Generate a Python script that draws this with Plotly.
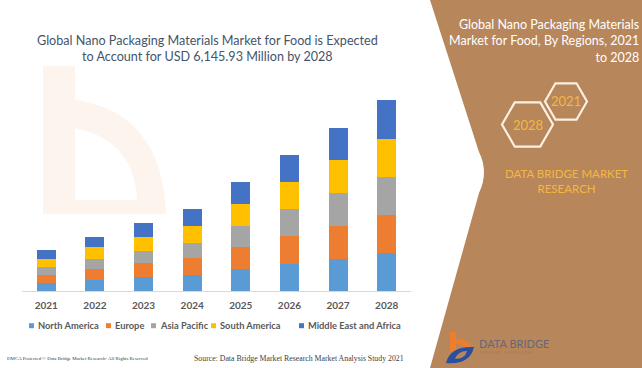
import math
import plotly.graph_objects as go

W, H = 642, 368

# Market size by region, USD Million
years = ["2021", "2022", "2023", "2024", "2025", "2026", "2027", "2028"]
north_america = [268, 345, 442, 516, 699, 880, 1041, 1225.0]
europe = [258, 364, 451, 538, 719, 893, 1064, 1234.4]
asia_pacific = [258, 322, 406, 503, 677, 870, 1044, 1215.1]
south_america = [258, 377, 451, 538, 709, 870, 1064, 1234.4]
middle_east_africa = [271, 342, 442, 548, 709, 870, 1051, 1237.03]

region_names = ["North America", "Europe", "Asia Pacific", "South America",
                "Middle East and Africa"]
region_values = [north_america, europe, asia_pacific, south_america,
                 middle_east_africa]
region_colors = ["#5B9BD5", "#ED7D31", "#A5A5A5", "#FFC000", "#4472C4"]

total_2028 = 6145.93

BROWN = "#B7865B"
GOLD = "#F4B743"


def fx(x):
    return x / W


def fy(y):
    return 1 - y / H


def path(cmds):
    """Build an SVG path in paper units from pixel-space commands."""
    out = []
    for c in cmds:
        op, nums = c[0], c[1:]
        pts = []
        for i in range(0, len(nums), 2):
            pts.append(f"{fx(nums[i]):.5f},{fy(nums[i + 1]):.5f}")
        out.append(op + " " + " ".join(pts))
    return " ".join(out)


fig = go.Figure()
for name, vals, col in zip(region_names, region_values, region_colors):
    fig.add_trace(go.Bar(
        x=years, y=vals, name=name,
        marker=dict(color=col, line=dict(width=0)),
        hoverinfo="skip", showlegend=False,
    ))

shapes = []

# faint brand mark behind the bars
shapes.append(dict(
    type="path", xref="paper", yref="paper", layer="below",
    path=path([("M", 43, 66), ("L", 75, 66), ("L", 75, 100),
               ("Q", 162, 112, 166, 214), ("L", 43, 214), ("Z",),
               ("M", 75, 128), ("Q", 134, 140, 137, 200),
               ("L", 75, 200), ("Z",)]),
    fillcolor="#FEF4EE", fillrule="evenodd", line=dict(width=0),
))

# brown side panel
shapes.append(dict(
    type="path", xref="paper", yref="paper", layer="above",
    path=path([("M", 430, 0), ("L", 479, 152), ("Q", 489, 172, 479, 193),
               ("L", 430, 368), ("L", 642, 368), ("L", 642, 0), ("Z",)]),
    fillcolor=BROWN, line=dict(width=0),
))


def hexagon(cx, cy, r):
    cmds = []
    for k in range(6):
        a = math.radians(60 * k)
        cmds.append(("M" if k == 0 else "L", cx + r * math.cos(a),
                     cy + r * math.sin(a)))
    cmds.append(("Z",))
    return path(cmds)


for cx, cy, r in [(566, 101.5, 21), (527.5, 124.5, 25.5)]:
    shapes.append(dict(
        type="path", xref="paper", yref="paper", layer="above",
        path=hexagon(cx, cy, r), fillcolor="rgba(0,0,0,0)",
        line=dict(color="#FBF1E2", width=2.2),
    ))

# logo icon, bottom right
shapes.append(dict(
    type="path", xref="paper", yref="paper", layer="above",
    path=path([("M", 450, 332), ("L", 456, 332), ("L", 456, 339),
               ("Q", 472, 339, 472, 352), ("L", 450, 352), ("Z",),
               ("M", 456, 344), ("Q", 466, 344, 466, 350),
               ("L", 456, 350), ("Z",)]),
    fillcolor="#EE7D2D", fillrule="evenodd", line=dict(width=0),
))
shapes.append(dict(
    type="path", xref="paper", yref="paper", layer="above",
    path=path([("M", 446, 363), ("Q", 450, 346, 474, 347),
               ("Q", 470, 365, 446, 363), ("Z",),
               ("M", 455, 359), ("Q", 458, 351, 467, 351),
               ("Q", 465, 359, 455, 359), ("Z",)]),
    fillcolor="#2A4F9E", fillrule="evenodd", line=dict(width=0),
))

annotations = []

# main title
annotations.append(dict(
    xref="paper", yref="paper", x=fx(207), y=fy(48.5),
    xanchor="center", yanchor="middle", showarrow=False,
    text="Global Nano Packaging Materials Market for Food is Expected<br>"
         f"to Account for USD {total_2028:,.2f} Million by 2028",
    font=dict(family="Lato", size=12.6, color="#44546A"),
))

# legend
legend_x = [29, 106, 151, 211, 299]
legend_y = 325.7
for lx, name, col in zip(legend_x, region_names, region_colors):
    shapes.append(dict(
        type="rect", xref="paper", yref="paper", layer="above",
        x0=fx(lx), x1=fx(lx + 5), y0=fy(legend_y + 2.5), y1=fy(legend_y - 2.5),
        fillcolor=col, line=dict(width=0),
    ))
    annotations.append(dict(
        xref="paper", yref="paper", x=fx(lx + 6.5), y=fy(legend_y),
        xanchor="left", yanchor="middle", showarrow=False, text=name,
        font=dict(family="Lato", size=9.3, color="#595959", weight="bold"),
    ))

# footer
annotations.append(dict(
    xref="paper", yref="paper", x=fx(5), y=fy(358),
    xanchor="left", yanchor="middle", showarrow=False,
    text="DMCA Protected © Data Bridge Market Research- All Rights Reserved",
    font=dict(family="Liberation Serif", size=4.9, color="#404040"),
))
annotations.append(dict(
    xref="paper", yref="paper", x=fx(192), y=fy(358),
    xanchor="left", yanchor="middle", showarrow=False,
    text="Source: Data Bridge Market Research Market Analysis Study 2021",
    font=dict(family="Liberation Serif", size=7.8, color="#404040"),
))

# panel texts
annotations.append(dict(
    xref="paper", yref="paper", x=fx(640.5), y=fy(41.3),
    xanchor="right", yanchor="middle", align="right", showarrow=False,
    text="Global Nano Packaging Materials<br>"
         "Market for Food, By Regions, 2021<br>to 2028",
    font=dict(family="Lato", size=12.5, color="#FFFFFF"),
))
annotations.append(dict(
    xref="paper", yref="paper", x=fx(566), y=fy(101),
    xanchor="center", yanchor="middle", showarrow=False, text="2021",
    font=dict(family="Lato", size=13, color=GOLD),
))
annotations.append(dict(
    xref="paper", yref="paper", x=fx(527.5), y=fy(125),
    xanchor="center", yanchor="middle", showarrow=False, text="2028",
    font=dict(family="Lato", size=13, color=GOLD),
))
annotations.append(dict(
    xref="paper", yref="paper", x=fx(566.5), y=fy(181.5),
    xanchor="center", yanchor="middle", showarrow=False,
    text="DATA BRIDGE MARKET<br>RESEARCH",
    font=dict(family="Lato", size=11.5, color=GOLD),
))
annotations.append(dict(
    xref="paper", yref="paper", x=fx(477), y=fy(343),
    xanchor="left", yanchor="middle", showarrow=False, text="DATA BRIDGE",
    font=dict(family="Lato", size=11, color="#676778"),
))
annotations.append(dict(
    xref="paper", yref="paper", x=fx(478), y=fy(352.5),
    xanchor="left", yanchor="middle", showarrow=False,
    text="M A R K E T   R E S E A R C H",
    font=dict(family="Lato", size=4, color="#9C7B5C"),
))

ymax = total_2028 * 200 / 190.7

fig.update_layout(
    width=W, height=H,
    margin=dict(l=0, r=0, t=0, b=0),
    paper_bgcolor="#FFFFFF", plot_bgcolor="rgba(0,0,0,0)",
    barmode="stack", bargap=0.61,
    showlegend=False, hovermode=False,
    shapes=shapes, annotations=annotations,
    xaxis=dict(
        type="category", domain=[fx(22), fx(411)],
        showline=True, linecolor="#D9D9D9", linewidth=1,
        showgrid=False, zeroline=False, ticks="",
        tickfont=dict(family="Lato", size=10, color="#595959", weight="bold"),
        ticklabelstandoff=5,
    ),
    yaxis=dict(
        domain=[fy(291), fy(91)], range=[0, ymax],
        visible=False, showgrid=False, zeroline=False,
    ),
)

fig.write_html("out.html", config={"displayModeBar": False})
